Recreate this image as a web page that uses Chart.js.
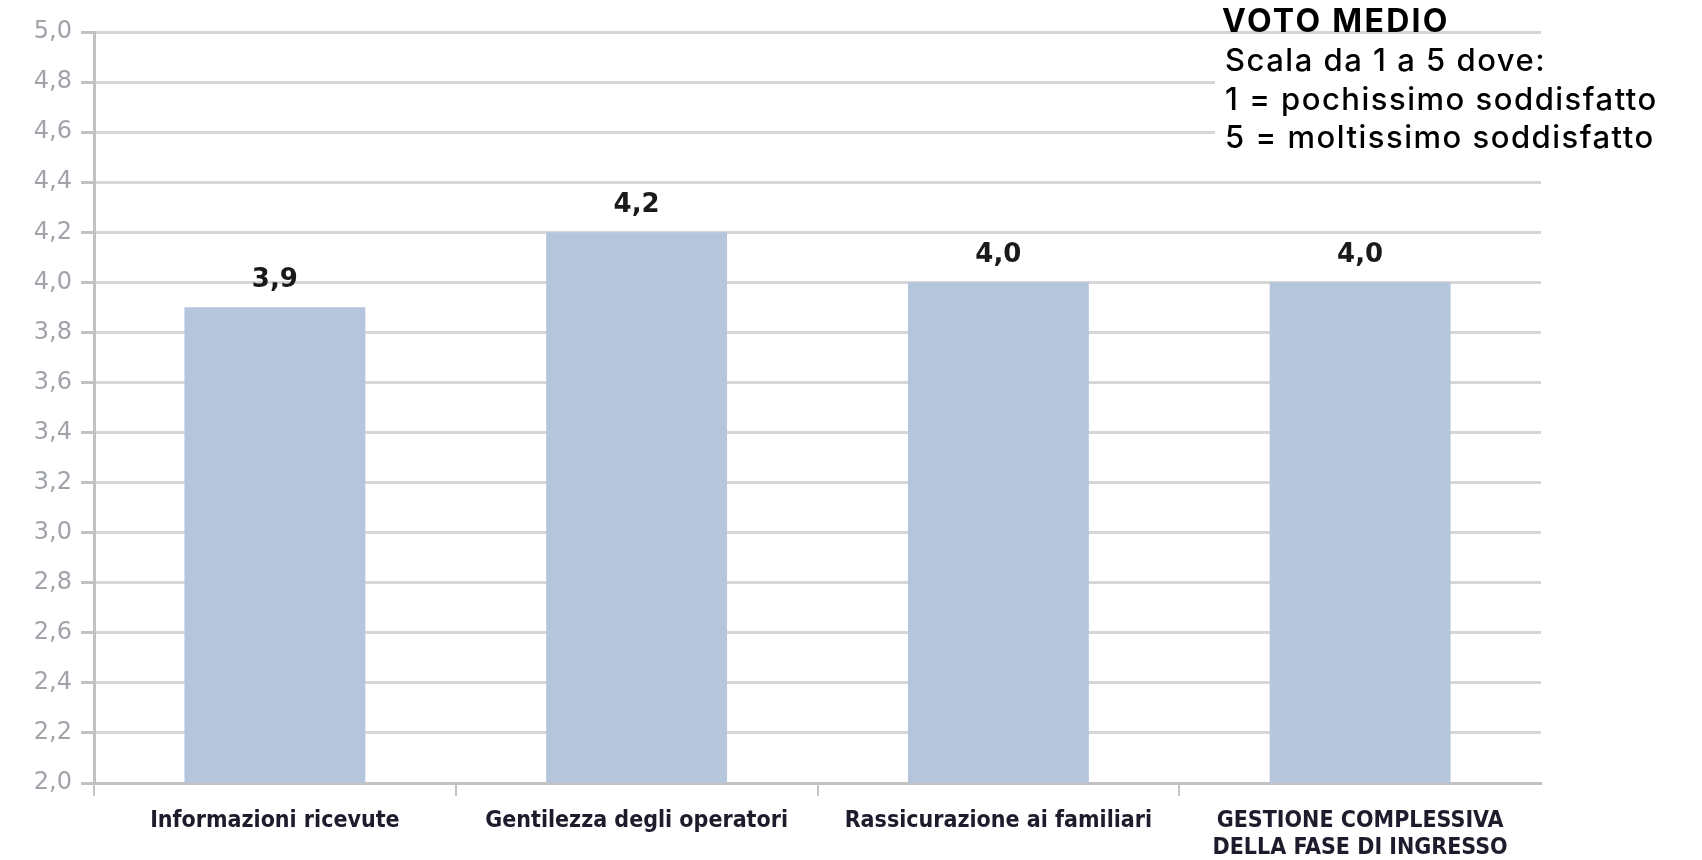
<!DOCTYPE html>
<html>
<head>
<meta charset="utf-8">
<script src="https://cdn.jsdelivr.net/npm/chart.js@4/dist/chart.umd.min.js"></script>
<style>
html,body{margin:0;padding:0;background:#fff;}
canvas{display:block;}
</style>
</head>
<body>
<canvas id="c" width="1702" height="860"></canvas>
<script>
const categories = [
  'Informazioni ricevute',
  'Gentilezza degli operatori',
  'Rassicurazione ai familiari',
  ['GESTIONE COMPLESSIVA', 'DELLA FASE DI INGRESSO']
];
const votoMedio = [3.9, 4.2, 4.0, 4.0];
const yMin = 2.0, yMax = 5.0, yStep = 0.2;
const noteTitle = 'VOTO MEDIO';
const noteLines = ['Scala da 1 a 5 dove:', '1 = pochissimo soddisfatto', '5 = moltissimo soddisfatto'];

const fmt = v => Number(v).toFixed(1).replace('.', ',');

const valueLabels = {
  id: 'valueLabels',
  afterDatasetsDraw(chart) {
    const ctx = chart.ctx;
    const meta = chart.getDatasetMeta(0);
    ctx.save();
    ctx.font = 'bold 26px "DejaVu Sans", sans-serif';
    ctx.fillStyle = '#1a1a1a';
    ctx.textAlign = 'center';
    ctx.textBaseline = 'middle';
    meta.data.forEach((bar, i) => {
      ctx.fillText(fmt(chart.data.datasets[0].data[i]), bar.x, bar.y - 27);
    });
    ctx.restore();
  }
};

const note = {
  id: 'note',
  afterDraw(chart) {
    const ctx = chart.ctx;
    ctx.save();
    ctx.fillStyle = '#ffffff';
    ctx.fillRect(1215, 37, 487, 123);
    ctx.fillStyle = '#000000';
    ctx.textAlign = 'left';
    ctx.textBaseline = 'alphabetic';
    ctx.font = 'bold 32px Inter, "Open Sans", sans-serif';
    if ('letterSpacing' in ctx) ctx.letterSpacing = '2.3px';
    ctx.fillText(noteTitle, 1222, 32);
    ctx.font = '500 31px Inter, "Open Sans", sans-serif';
    if ('letterSpacing' in ctx) ctx.letterSpacing = '1.5px';
    const ys = [71, 110, 148];
    noteLines.forEach((t, i) => ctx.fillText(t, 1225, ys[i]));
    ctx.restore();
  }
};

new Chart(document.getElementById('c'), {
  type: 'bar',
  data: {
    labels: categories,
    datasets: [{
      data: votoMedio,
      backgroundColor: '#b5c6dc',
      borderWidth: 0,
      barPercentage: 0.5,
      categoryPercentage: 1.0
    }]
  },
  options: {
    responsive: false,
    devicePixelRatio: 1,
    animation: false,
    layout: { padding: { top: 32, right: 161, left: 0, bottom: 0 } },
    plugins: {
      legend: { display: false },
      tooltip: { enabled: false }
    },
    scales: {
      x: {
        afterFit(s) { s.height = 77; },
        grid: {
          drawOnChartArea: false,
          drawTicks: true,
          tickLength: 13,
          lineWidth: 2,
          color: c => (c.type === 'tick' ? '#c4c4c4' : 'rgba(0,0,0,0)')
        },
        border: { color: '#c2c2c2', width: 3 },
        ticks: {
          padding: 11,
          color: '#1c1c2c',
          font: { family: '"DejaVu Sans Condensed", "DejaVu Sans", sans-serif', size: 23, weight: 'bold' },
          maxRotation: 0,
          autoSkip: false
        }
      },
      y: {
        min: yMin,
        max: yMax,
        afterFit(s) { s.width = 94; },
        grid: {
          color: '#d6d6d6',
          lineWidth: 3,
          tickLength: 13,
          tickColor: '#c2c2c2'
        },
        border: { color: '#c2c2c2', width: 3 },
        ticks: {
          stepSize: yStep,
          padding: 9,
          color: '#a0a3aa',
          font: { family: '"DejaVu Sans", sans-serif', size: 24 },
          callback: v => fmt(v)
        }
      }
    }
  },
  plugins: [valueLabels, note]
});
</script>
</body>
</html>
